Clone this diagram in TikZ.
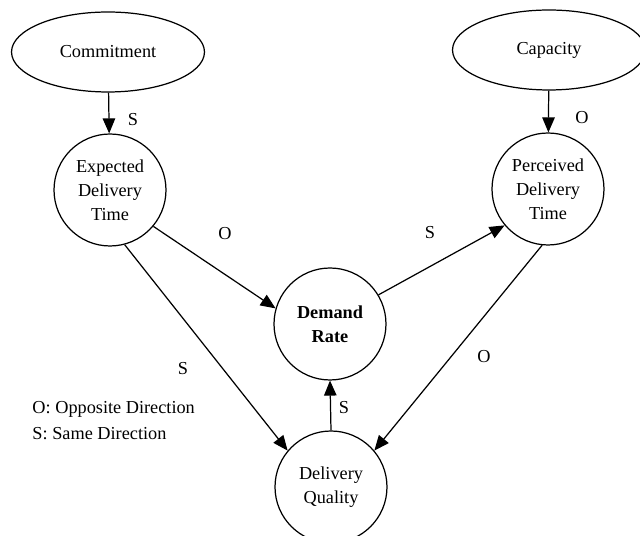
\documentclass[tikz,border=0pt]{standalone}
\usepackage{fontspec}
\setmainfont{Liberation Serif}
\usetikzlibrary{shapes.geometric}
\usetikzlibrary{arrows.meta}
\tikzset{
	factor/.style={draw, circle, minimum size=2.24cm, inner sep=0pt, align=center, font=\fontsize{10.4}{13.6}\selectfont},
	driver/.style={draw, ellipse, minimum width=3.86cm, minimum height=1.6cm, inner sep=0pt, font=\fontsize{10.4}{13.6}\selectfont},
	relsign/.style={font=\fontsize{10.4}{13.6}\selectfont},
	link/.style={-{Triangle[length=0.3cm, width=0.25cm]}}
}

\begin{document}
\begin{tikzpicture}[x=0.02cm, y=-0.02cm, line width=0.7pt]
		\useasboundingbox (0,0) rectangle (640,536);
		\node[driver] (com) at (108,52) {Commitment};
		\node[driver] (cap) at (549,50) {Capacity};
		\node[factor] (edt) at (110,190) {Expected\\Delivery\\Time};
		\node[factor] (pdt) at (548,189) {Perceived\\Delivery\\Time};
		\node[factor, font=\fontsize{10.4}{13.6}\selectfont\bfseries] (dr) at (330,324) {Demand\\Rate};
		\node[factor] (dq) at (331,487) {Delivery\\Quality};
		\draw[link] (com) -- (edt);
		\draw[link] (cap) -- (pdt);
		\draw[link] (edt.320) -- (dr.164);
		\draw[link] (dr.31) -- (pdt.220);
		\draw[link] (edt.285) -- (dq.140);
		\draw[link] (pdt.264) -- (dq.40);
		\draw[link] (dq.north) -- (dr.south);
		\node[relsign] (s1) at (133,120) {S};
		\node[relsign] (o1) at (582,118) {O};
		\node[relsign] (o2) at (225,234) {O};
		\node[relsign] (s2) at (430,233) {S};
		\node[relsign] (s3) at (183,369) {S};
		\node[relsign] (o3) at (484,357) {O};
		\node[relsign] (s4) at (344,408) {S};
		\node[relsign, anchor=west] (keyo) at (26,409) {O: Opposite Direction};
		\node[relsign, anchor=west] (keys) at (26,434) {S: Same Direction};
	\end{tikzpicture}
\end{document}
